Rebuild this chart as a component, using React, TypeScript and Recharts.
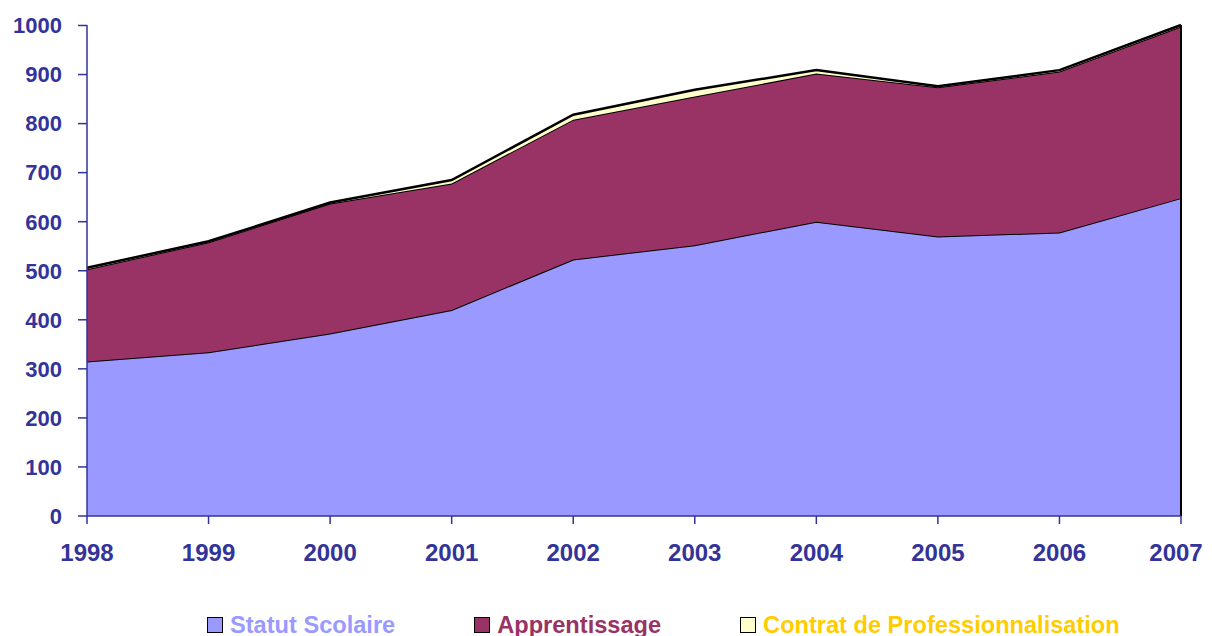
import React from "react";
import { AreaChart, Area, XAxis, YAxis, Legend, ReferenceLine } from "recharts";

const years = ["1998", "1999", "2000", "2001", "2002", "2003", "2004", "2005", "2006", "2007"];
const statutScolaire = [315, 334, 372, 420, 523, 552, 600, 570, 578, 648];
const apprentissage = [188, 224, 265, 258, 285, 303, 302, 304, 328, 350];
const contratPro = [3, 2, 2, 7, 10, 14, 7, 2, 3, 3];
const yTicks = [0, 100, 200, 300, 400, 500, 600, 700, 800, 900, 1000];

const series = [
  { key: "statut", name: "Statut Scolaire", fill: "#9999FF", text: "#9999FF" },
  { key: "appr", name: "Apprentissage", fill: "#993366", text: "#993366" },
  { key: "contrat", name: "Contrat de Professionnalisation", fill: "#FFFFCC", text: "#FFCC00" },
];

const data = years.map((year, i) => ({
  year,
  statut: statutScolaire[i],
  appr: apprentissage[i],
  contrat: contratPro[i],
}));

const axisColor = "#333399";
const font = "'Liberation Sans', Arial, sans-serif";

// last year label sits right on the page edge, pull it in a little so it isn't cut off
function YearTick(props: any) {
  const { x, y, payload, index } = props;
  const last = index === years.length - 1;
  return (
    <text
      x={last ? x - 5 : x}
      y={y}
      dy="0.71em"
      textAnchor="middle"
      fill={axisColor}
      fontSize={24}
      fontWeight="bold"
      fontFamily={font}
    >
      {payload.value}
    </text>
  );
}

// legend drawn as plain html so the spacing matches the excel original
function LegendContent() {
  return (
    <div
      style={{
        display: "flex",
        alignItems: "center",
        height: 28,
        boxSizing: "border-box",
        paddingTop: 5,
        paddingLeft: 199,
        fontFamily: font,
        fontWeight: "bold",
        fontSize: 23.6,
        lineHeight: "24px",
      }}
    >
      {series.map((s, i) => (
        <div key={s.key} style={{ display: "flex", alignItems: "center", marginRight: i < 2 ? 79 : 0 }}>
          <span
            style={{
              display: "inline-block",
              width: 14,
              height: 14,
              background: s.fill,
              border: "1.5px solid #000",
              marginRight: 7,
            }}
          />
          <span style={{ color: s.text, whiteSpace: "nowrap" }}>{s.name}</span>
        </div>
      ))}
    </div>
  );
}

export default function App() {
  return (
    <AreaChart
      width={1204}
      height={628}
      data={data}
      margin={{ top: 17, right: 31, left: 0, bottom: 0 }}
    >
      <XAxis
        dataKey="year"
        height={92}
        stroke={axisColor}
        strokeWidth={1.5}
        tickSize={8}
        tickMargin={20}
        tick={<YearTick />}
        interval={0}
      />
      <YAxis
        width={79}
        domain={[0, 1000]}
        ticks={yTicks}
        stroke={axisColor}
        strokeWidth={1.5}
        tickSize={9}
        tickMargin={16}
        interval={0}
        tick={{ fill: axisColor, fontSize: 22, fontWeight: "bold", fontFamily: font }}
      />
      <Legend verticalAlign="bottom" height={28} content={<LegendContent />} />
      {series.map((s) => (
        <Area
          key={s.key}
          type="linear"
          dataKey={s.key}
          name={s.name}
          stackId="1"
          fill={s.fill}
          fillOpacity={1}
          stroke="#000"
          strokeWidth={s.key === "contrat" ? 2.5 : 2}
          isAnimationActive={false}
        />
      ))}
      <ReferenceLine x="2007" stroke="#000" strokeWidth={2} />
    </AreaChart>
  );
}
